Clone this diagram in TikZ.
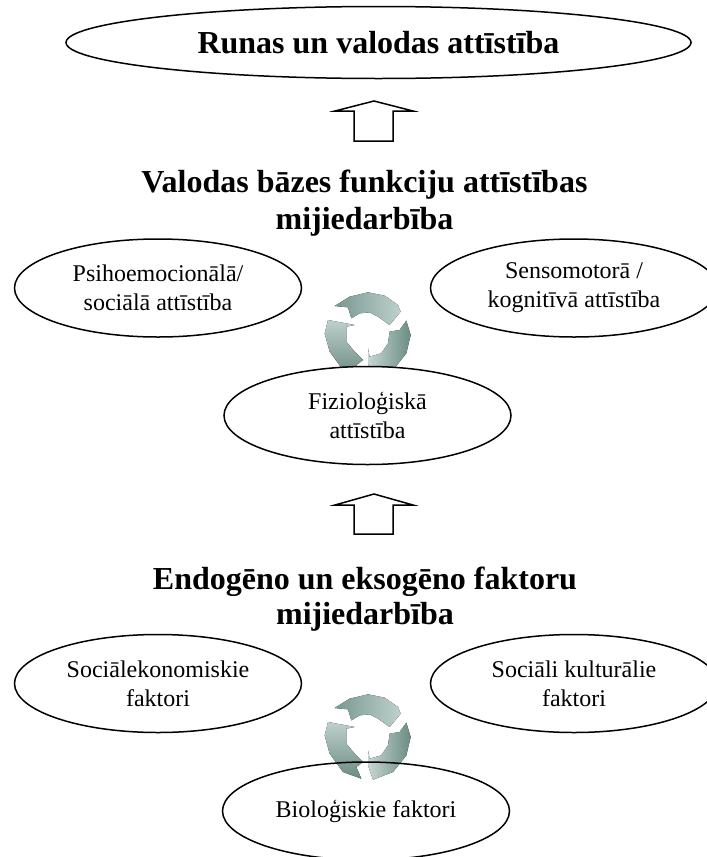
\documentclass[tikz,border=0pt]{standalone}
\usepackage{fontspec}
\setmainfont{Liberation Serif}
\usetikzlibrary{shapes.geometric}
\tikzset{
  oval/.style={draw=black,fill=white,ellipse,line width=1.5pt,inner sep=0pt,align=center,font=\fontsize{24}{29}\selectfont},
  smalloval/.style={oval,minimum width=287pt,minimum height=98pt},
  heading/.style={inner sep=0pt,align=center,font=\fontsize{32}{37}\selectfont\bfseries},
  uparrow/.style={draw=black,fill=white,line width=1.5pt,line join=miter},
  segA/.style={left color=RcA,right color=RcB,draw=none},
  segB/.style={top color=RcB,bottom color=RcC,draw=none},
  segC/.style={left color=RcD,right color=RcC,draw=none}
}
\definecolor{RcA}{HTML}{769890}
\definecolor{RcB}{HTML}{BFD0CC}
\definecolor{RcC}{HTML}{6A8C83}
\definecolor{RcD}{HTML}{C6D6D2}
\newcommand{\recycleicon}[2]{%
  \begin{scope}[shift={(#1,#2)},x=0.3333pt,y=-0.3333pt]
    \fill[segA] (-100,-87) -- (-55,-115) -- (0,-128) -- (50,-118) -- (90,-90) -- (98,-70) -- (65,-30) -- (30,-55) -- (5,-68) -- (-25,-65) -- (-50,-50) -- (-60,-83) -- cycle;
    \fill[segB] (-120,-45) -- (-40,-30) -- (-65,-25) -- (-65,20) -- (-40,50) -- (-15,75) -- (-35,90) -- (-20,125) -- (-75,105) -- (-115,50) -- (-130,-5) -- cycle;
    \fill[segC] (115,-43) -- (128,0) -- (115,55) -- (75,105) -- (15,128) -- (0,85) -- (0,40) -- (5,65) -- (40,55) -- (60,25) -- (65,-10) -- (95,-15) -- cycle;
  \end{scope}}
\begin{document}
\begin{tikzpicture}[x=1pt,y=-1pt]
\useasboundingbox (0,0) rectangle (707,857);
\recycleicon{368}{335}
\recycleicon{368}{737}
\node[oval,minimum width=625pt,minimum height=72pt,font=\fontsize{32}{38}\selectfont\bfseries] (top) at (378.5,42.5) {Runas un valodas attīstība};
\node[heading] (h1) at (364.5,203.5) {Valodas bāzes funkciju attīstības\\mijiedarbība};
\node[smalloval] (psi) at (158,288) {Psihoemocionālā/\\sociālā attīstība};
\node[smalloval] (sen) at (574,288) {Sensomotorā /\\kognitīvā attīstība};
\node[smalloval] (fiz) at (367.5,415.5) {Fizioloģiskā\\attīstība};
\node[heading,font=\fontsize{32}{35}\selectfont\bfseries] (h2) at (365,599) {Endogēno un eksogēno faktoru\\mijiedarbība};
\node[smalloval] (soc) at (158,683.5) {Sociālekonomiskie\\faktori};
\node[smalloval] (kul) at (574,683.5) {Sociāli kulturālie\\faktori};
\node[smalloval,fill=none] (bio) at (366,811) {Bioloģiskie faktori};
\draw[uparrow] (374,101) -- (413,111) -- (393,111) -- (393,141) -- (354,141) -- (354,111) -- (335,111) -- cycle;
\draw[uparrow] (374,494) -- (413,505) -- (393,505) -- (393,534) -- (354,534) -- (354,505) -- (335,505) -- cycle;
\end{tikzpicture}
\end{document}
